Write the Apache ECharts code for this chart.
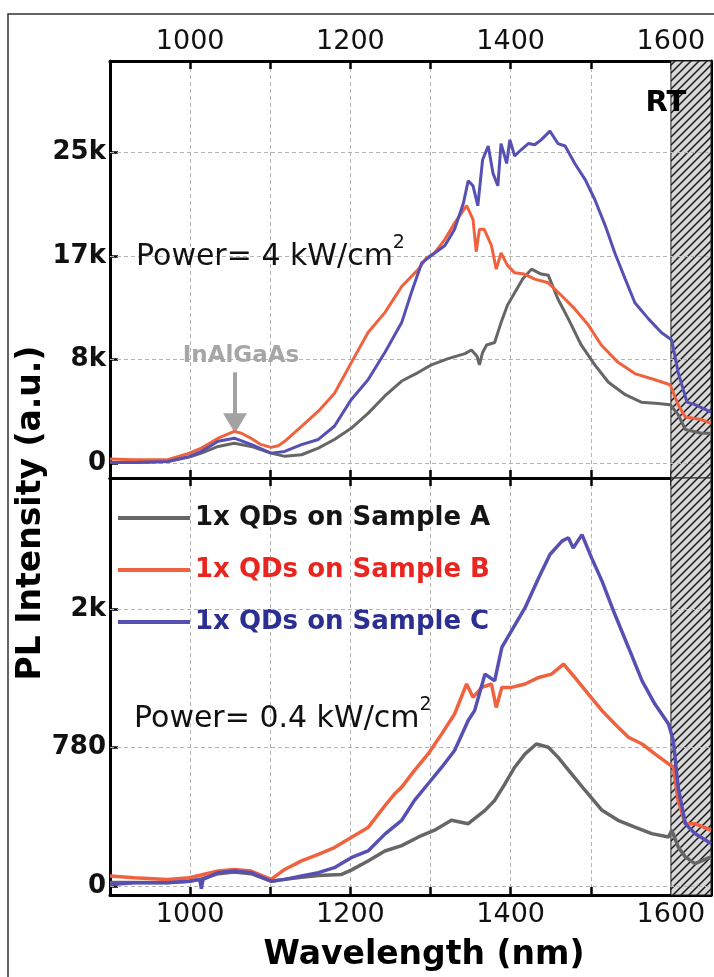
<!DOCTYPE html>
<html>
<head>
<meta charset="utf-8">
<script src="https://cdn.jsdelivr.net/npm/echarts@6/dist/echarts.min.js"></script>
<style>
html,body{margin:0;padding:0;background:#fff;}
#chart{width:714px;height:977px;}
</style>
</head>
<body>
<div id="chart"></div>
<script>
// ---------- data ----------
const seriesNames = ['1x QDs on Sample A', '1x QDs on Sample B', '1x QDs on Sample C'];
const xTickLabels = [1000, 1200, 1400, 1600];
const topYTicks = [0, 8333.33, 16666.67, 25000];   // labelled 0, 8k, 17k, 25k
const botYTicks = [0, 780, 1560];                  // labelled 0, 780, 2k

// Top panel (Power = 4 kW/cm2)
const topWlA = [900,930,972,999,1014,1035,1055,1076,1101,1118,1139,1160,1180,1201,1222,1243,1264,1285,1301,1322,1343,1351,1358,1361,1365,1370,1380,1388,1396,1405,1415,1426,1438,1447,1459,1472,1488,1505,1522,1543,1563,1584,1599,1609,1618,1638,1650];
const topA   = [50,50,130,480,800,1340,1600,1340,800,540,670,1200,1900,2800,4000,5400,6600,7300,7900,8400,8800,9100,8600,7900,8900,9500,9700,11300,12700,13700,14800,15600,15200,15100,13200,11600,9500,7900,6500,5500,4900,4800,4700,3900,2700,2400,2400];
const topWlB = [900,930,972,999,1014,1035,1055,1064,1076,1088,1101,1110,1118,1139,1160,1180,1201,1222,1243,1264,1285,1295,1305,1318,1330,1345,1353,1357,1361,1367,1376,1382,1388,1396,1405,1417,1430,1447,1463,1480,1497,1513,1534,1555,1580,1599,1609,1618,1638,1650];
const topB   = [320,270,270,800,1200,2000,2550,2400,2000,1500,1260,1400,1750,2960,4170,5600,8060,10500,12100,14200,15600,16500,16900,18000,19300,20700,19600,17000,18800,18800,17500,15600,16900,15900,15300,15200,14800,14500,13500,12400,11100,9500,8100,7200,6700,6300,4700,3700,3500,3200];
const topWlC = [900,930,972,999,1014,1035,1055,1076,1101,1118,1139,1160,1180,1201,1222,1243,1264,1276,1289,1301,1318,1330,1341,1347,1353,1359,1365,1372,1378,1384,1388,1395,1399,1405,1413,1422,1430,1438,1449,1459,1468,1480,1493,1505,1518,1530,1543,1555,1572,1588,1601,1609,1620,1630,1650];
const topC   = [50,50,130,540,940,1750,2000,1500,800,940,1480,1900,2960,5100,6700,8900,11300,13700,16100,16700,17500,18800,20900,22700,22300,20700,24400,25500,23300,22300,25700,24100,26000,24700,25200,25700,25600,26000,26700,25700,25500,24100,22800,21200,19100,16900,14800,12900,11600,10500,9900,7300,4900,4700,4100];

// Bottom panel (Power = 0.4 kW/cm2)
const botWlA = [900,930,972,999,1014,1035,1055,1076,1101,1118,1139,1160,1189,1201,1222,1243,1264,1285,1305,1326,1347,1368,1380,1393,1405,1418,1432,1447,1459,1476,1493,1514,1534,1555,1576,1597,1601,1609,1618,1630,1650];
const botA   = [20,20,20,28,40,70,80,70,28,38,50,60,66,90,142,198,228,277,315,371,352,427,483,577,670,745,801,783,727,633,539,427,371,333,296,277,315,221,165,127,165];
const botWlB = [900,930,972,999,1035,1055,1076,1101,1118,1139,1160,1180,1201,1222,1243,1255,1264,1280,1297,1314,1330,1345,1353,1364,1376,1382,1389,1401,1418,1435,1451,1466,1480,1497,1514,1530,1547,1564,1580,1597,1603,1609,1618,1630,1650];
const botB   = [57,47,38,47,85,94,85,38,94,142,179,217,274,330,453,519,558,652,745,858,970,1139,1064,1120,1139,1007,1120,1120,1139,1176,1195,1251,1176,1082,989,914,839,801,745,689,670,483,352,352,315];
const botWlC = [900,930,972,999,1012,1014,1016,1035,1055,1076,1101,1118,1139,1160,1180,1201,1222,1243,1264,1280,1297,1314,1330,1347,1355,1368,1380,1389,1401,1418,1435,1449,1464,1472,1478,1489,1501,1514,1530,1547,1564,1580,1597,1603,1609,1618,1630,1650];
const botC   = [9,19,19,28,38,-15,38,76,85,76,28,38,57,76,104,160,198,293,371,483,577,670,764,933,989,1195,1157,1345,1438,1569,1738,1869,1944,1963,1906,1981,1850,1719,1532,1345,1157,1026,914,820,558,352,296,240];

// annotation anchors (data units)
const rtRange = [1600, 1650];
const arrowX = 1056, arrowFrom = 7300, arrowTo = 3200;

// ---------- styling ----------
const FONT = 'DejaVu Sans';
const lineColors = ['#666666', '#f0623e', '#5650b3'];
const legendTextColors = ['#151515', '#e8261f', '#2c2f92'];

function zip(xs, ys) { return xs.map((x, i) => [x, ys[i]]); }
function kfmt(v) {
  if (Math.abs(v) < 0.5) return '0';
  if (v >= 1000) return Math.round(v / 1000) + 'k';
  return String(Math.round(v));
}
function makeHatch() {
  const c = document.createElement('canvas');
  c.width = 8; c.height = 8;
  const g = c.getContext('2d');
  g.fillStyle = '#d8d8d8'; g.fillRect(0, 0, 8, 8);
  g.strokeStyle = '#1a1a1a'; g.lineWidth = 1.5;
  g.beginPath();
  g.moveTo(0, 8); g.lineTo(8, 0);
  g.moveTo(-2, 2); g.lineTo(2, -2);
  g.moveTo(6, 10); g.lineTo(10, 6);
  g.stroke();
  return c;
}
const hatch = { image: makeHatch(), repeat: 'repeat' };

const axisLineStyle = { color: '#000', width: 3 };
const tickStyle = { color: '#000', width: 2.5 };
const gridDash = { color: '#b4b4b4', width: 1, type: [4, 3] };

function xAxisDef(grid, pos, labels) {
  return {
    type: 'value', gridIndex: grid, position: pos, min: 900, max: 1650, interval: 100,
    axisLine: { show: true, onZero: false, lineStyle: axisLineStyle },
    axisTick: { show: true, inside: true, length: 8, lineStyle: tickStyle },
    axisLabel: {
      show: labels, margin: 6, fontFamily: FONT, fontSize: 27, color: '#111',
      formatter: v => (xTickLabels.indexOf(v) >= 0 ? String(v) : '')
    },
    splitLine: { show: labels, lineStyle: gridDash }
  };
}
function yAxisDef(grid, pos, min, max, ticks, labels) {
  return {
    type: 'value', gridIndex: grid, position: pos, min: min, max: max,
    axisLine: { show: true, onZero: false, lineStyle: axisLineStyle },
    axisTick: { show: true, inside: true, length: 8, lineStyle: tickStyle, customValues: ticks },
    axisLabel: {
      show: labels, customValues: ticks, margin: 4, fontFamily: FONT, fontSize: 26,
      fontWeight: 'bold', color: '#111', formatter: kfmt
    },
    splitLine: { show: false }
  };
}
function dataSeries(name, idx, xi, yi, data, w) {
  return {
    name: name, type: 'line', xAxisIndex: xi, yAxisIndex: yi, data: data,
    showSymbol: false, symbol: 'none', z: 5,
    color: lineColors[idx], itemStyle: { color: lineColors[idx] },
    lineStyle: { color: lineColors[idx], width: w }
  };
}
function helperSeries(name, xi, yi, ticks, z) {
  return {
    name: name, type: 'line', xAxisIndex: xi, yAxisIndex: yi, data: [], z: z, silent: true,
    markLine: {
      silent: true, symbol: 'none', animation: false,
      label: { show: false },
      lineStyle: gridDash,
      data: ticks.map(t => ({ yAxis: t }))
    }
  };
}
function hatchSeries(name, xi, yi) {
  return {
    name: name, type: 'line', xAxisIndex: xi, yAxisIndex: yi, data: [], z: 3, silent: true,
    markArea: {
      silent: true, animation: false,
      itemStyle: { color: hatch, borderColor: '#222', borderWidth: 1 },
      data: [[{ xAxis: rtRange[0] }, { xAxis: rtRange[1] }]]
    }
  };
}

const chart = echarts.init(document.getElementById('chart'), null, { renderer: 'canvas' });
const option = {
  animation: false,
  backgroundColor: '#fff',
  grid: [
    { left: 110, right: 3, top: 61, height: 417 },
    { left: 110, right: 3, top: 478, height: 417 }
  ],
  xAxis: [
    xAxisDef(0, 'top', true),
    xAxisDef(0, 'bottom', false),
    xAxisDef(1, 'top', false),
    xAxisDef(1, 'bottom', true)
  ],
  yAxis: [
    yAxisDef(0, 'left', -1200, 32340, topYTicks, true),
    yAxisDef(0, 'right', -1200, 32340, topYTicks, false),
    yAxisDef(1, 'left', -50, 2300, botYTicks, true),
    yAxisDef(1, 'right', -50, 2300, botYTicks, false)
  ],
  legend: {
    orient: 'vertical', left: 113, top: 498, itemWidth: 72, itemHeight: 4, itemGap: 22,
    icon: 'rect', selectedMode: false,
    textStyle: { fontFamily: FONT, fontSize: 26, fontWeight: 'bold', lineHeight: 30 },
    data: seriesNames.map((n, i) => ({ name: n, textStyle: { color: legendTextColors[i] } }))
  },
  series: [
    helperSeries('_g0', 0, 0, topYTicks, 1),
    helperSeries('_g1', 3, 2, botYTicks, 1),
    hatchSeries('_h0', 0, 0),
    hatchSeries('_h1', 3, 2),
    dataSeries(seriesNames[0], 0, 0, 0, zip(topWlA, topA), 3),
    dataSeries(seriesNames[1], 1, 0, 0, zip(topWlB, topB), 3),
    dataSeries(seriesNames[2], 2, 0, 0, zip(topWlC, topC), 3),
    dataSeries(seriesNames[0], 0, 3, 2, zip(botWlA, botA), 3.5),
    dataSeries(seriesNames[1], 1, 3, 2, zip(botWlB, botB), 3.5),
    dataSeries(seriesNames[2], 2, 3, 2, zip(botWlC, botC), 3.5),
    {
      name: '_arrow', type: 'line', xAxisIndex: 0, yAxisIndex: 0, data: [], z: 6, silent: true,
      markLine: {
        silent: true, animation: false, label: { show: false },
        lineStyle: { color: '#a3a3a3', width: 4, type: 'solid' },
        data: [[
          { coord: [arrowX, arrowFrom], symbol: 'none' },
          { coord: [arrowX, arrowTo], symbol: 'triangle', symbolSize: [24, 20], symbolRotate: 180 }
        ]]
      }
    }
  ],
  graphic: [
    { type: 'rect', silent: true, z: 0, shape: { x: 8, y: 14, width: 800, height: 1000 },
      style: { fill: 'none', stroke: '#333', lineWidth: 1.5 } },
    { type: 'text', silent: true, x: 31, y: 513, rotation: Math.PI / 2, z: 20,
      style: { text: 'PL Intensity (a.u.)', font: 'bold 33px "DejaVu Sans"', fill: '#000',
               align: 'center', verticalAlign: 'middle' } },
    { type: 'text', silent: true, x: 424, y: 955, z: 20,
      style: { text: 'Wavelength (nm)', font: 'bold 33px "DejaVu Sans"', fill: '#000',
               align: 'center', verticalAlign: 'middle' } },
    { type: 'text', silent: true, x: 666, y: 103, z: 20,
      style: { text: 'RT', font: 'bold 29px "DejaVu Sans"', fill: '#000',
               align: 'center', verticalAlign: 'middle' } },
    { type: 'text', silent: true, x: 241, y: 356, z: 20,
      style: { text: 'InAlGaAs', font: 'bold 23px "DejaVu Sans"', fill: '#a6a6a6',
               align: 'center', verticalAlign: 'middle' } },
    { type: 'text', silent: true, x: 136, y: 253, z: 20,
      style: { text: '{a|Power= 4 kW/cm}{b|2}', align: 'left', verticalAlign: 'middle',
               rich: { a: { fontFamily: FONT, fontSize: 30, lineHeight: 38, fill: '#111', verticalAlign: 'bottom' },
                       b: { fontFamily: FONT, fontSize: 19, lineHeight: 20, fill: '#111', verticalAlign: 'top' } } } },
    { type: 'text', silent: true, x: 134, y: 715, z: 20,
      style: { text: '{a|Power= 0.4 kW/cm}{b|2}', align: 'left', verticalAlign: 'middle',
               rich: { a: { fontFamily: FONT, fontSize: 30, lineHeight: 38, fill: '#111', verticalAlign: 'bottom' },
                       b: { fontFamily: FONT, fontSize: 19, lineHeight: 20, fill: '#111', verticalAlign: 'top' } } } }
  ]
};
chart.setOption(option);
</script>
</body>
</html>
